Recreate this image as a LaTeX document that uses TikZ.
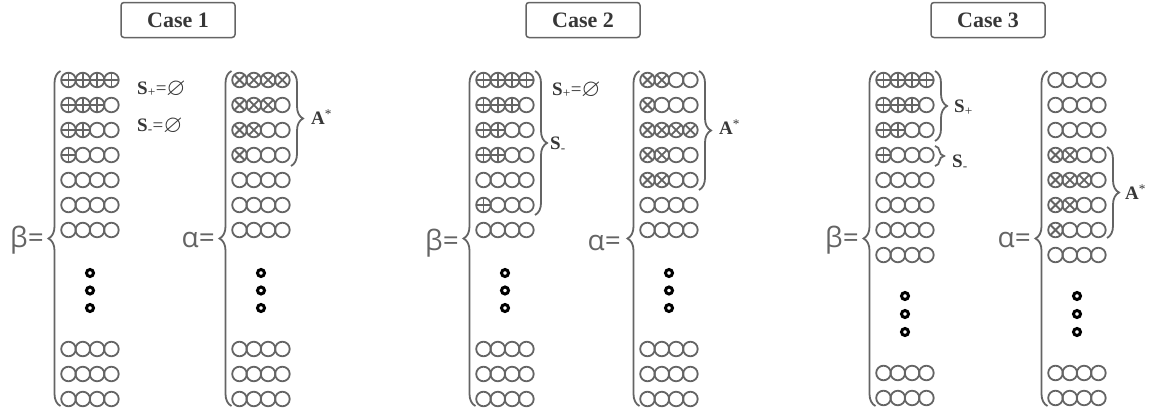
\documentclass[tikz,border=0pt]{standalone}
\usepackage{fontspec}
\usepackage{amssymb}
\setmainfont{Liberation Serif}
\newfontfamily\greekfont{Open Sans}
\usetikzlibrary{decorations.pathreplacing}

\definecolor{beadgray}{RGB}{100,100,100}
\definecolor{textgray}{RGB}{55,55,55}

\tikzset{
	bead/.style={draw=beadgray, line width=1.8pt},
	ringdot/.style={draw=black, line width=3pt},
	bigbrace/.style={draw=beadgray, line width=1.8pt, decorate, decoration={brace, amplitude=12pt}},
	smallbrace/.style={draw=beadgray, line width=1.8pt, decorate, decoration={brace, amplitude=9pt}},
	casebox/.style={draw=beadgray, line width=1.5pt, rounded corners=3pt, minimum width=114pt, minimum height=35pt, text=textgray, font=\fontsize{22}{24}\selectfont\bfseries},
	eqlabel/.style={anchor=east, text=beadgray, inner sep=0pt, font=\greekfont\fontsize{28}{30}\selectfont},
	setlabel/.style={anchor=west, text=textgray, inner sep=0pt, font=\fontsize{19}{21}\selectfont}
}

% one row of four beads, the first #3 of them marked (angle #4: 0 = plus, 45 = cross)
\newcommand{\beadrow}[4]{%
	\foreach \k in {0,...,3}{
		\draw[bead] ({#1+14.3*\k},#2) circle (7.3pt);
		\ifnum\k<#3
		\draw[bead] ({#1+14.3*\k},#2) ++(#4:7.3) -- ++(#4+180:14.6)
		({#1+14.3*\k},#2) ++(#4+90:7.3) -- ++(#4+270:14.6);
		\fi
	}}
% a column of rows, 25 apart
\newcommand{\beadcol}[4]{%
	\foreach \n [count=\i from 0] in {#3}{
		\beadrow{#1}{#2+25*\i}{\n}{#4}
	}}
\newcommand{\noneset}{\raisebox{-1pt}{\scalebox{1.3}{$\varnothing$}}}

\begin{document}
\begin{tikzpicture}[x=1pt,y=-1pt]
	\useasboundingbox (0,0) rectangle (1151,415);
	
	\node[casebox] (C1) at (178,20) {Case 1};
	\node[casebox] (C2) at (583,20) {Case 2};
	\node[casebox] (C3) at (988,20) {Case 3};
	
	% case 1
	\beadcol{68.5}{80}{4,3,2,1,0,0,0}{0}
	\beadcol{68.5}{349}{0,0,0}{0}
	\beadcol{239.5}{80}{4,3,2,1,0,0,0}{45}
	\beadcol{239.5}{349}{0,0,0}{45}
	\foreach \y in {273,290.5,308}{
		\draw[ringdot] (90,\y) circle (3.5pt);
		\draw[ringdot] (261,\y) circle (3.5pt);
	}
	\coordinate (B1t) at (60.5,71);
	\coordinate (B1b) at (60.5,406);
	\coordinate (A1t) at (231.5,71);
	\coordinate (A1b) at (231.5,406);
	\draw[bigbrace] (B1b) -- (B1t);
	\draw[bigbrace] (A1b) -- (A1t);
	\coordinate (As1t) at (291,71);
	\coordinate (As1b) at (291,166);
	\draw[bigbrace] (As1t) -- (As1b);
	\node[eqlabel] (beta1) at (44,240) {β=};
	\node[eqlabel] (alpha1) at (215,240) {α=};
	\node[setlabel] (Sp1) at (137,89) {\textbf{S}\textsubscript{+}=\noneset};
	\node[setlabel] (Sm1) at (137,126) {\textbf{S}\textsubscript{-}=\noneset};
	\node[setlabel] (As1) at (311,117) {\textbf{A}\textsuperscript{*}};
	
	% case 2
	\beadcol{483.5}{80}{4,3,2,2,0,1,0}{0}
	\beadcol{483.5}{349}{0,0,0}{0}
	\beadcol{647.5}{80}{2,1,4,2,2,0,0}{45}
	\beadcol{647.5}{349}{0,0,0}{45}
	\foreach \y in {273,290.5,308}{
		\draw[ringdot] (505,\y) circle (3.5pt);
		\draw[ringdot] (669,\y) circle (3.5pt);
	}
	\coordinate (B2t) at (475.5,71);
	\coordinate (B2b) at (475.5,406);
	\coordinate (A2t) at (639.5,71);
	\coordinate (A2b) at (639.5,406);
	\draw[bigbrace] (B2b) -- (B2t);
	\draw[bigbrace] (A2b) -- (A2t);
	\coordinate (Sm2t) at (535,71);
	\coordinate (Sm2b) at (535,215);
	\draw[bigbrace] (Sm2t) -- (Sm2b);
	\coordinate (As2t) at (699,71);
	\coordinate (As2b) at (699,190);
	\draw[bigbrace] (As2t) -- (As2b);
	\node[eqlabel] (beta2) at (459,243) {β=};
	\node[eqlabel] (alpha2) at (621,243) {α=};
	\node[setlabel] (Sp2) at (552,90) {\textbf{S}\textsubscript{+}=\noneset};
	\node[setlabel] (Sm2) at (550,145) {\textbf{S}\textsubscript{-}};
	\node[setlabel] (As2) at (719,127) {\textbf{A}\textsuperscript{*}};
	
	% case 3
	\beadcol{883.5}{80}{4,3,2,1,0,0,0,0}{0}
	\beadcol{883.5}{373}{0,0}{0}
	\beadcol{1055.5}{80}{0,0,0,2,3,2,1,0}{45}
	\beadcol{1055.5}{373}{0,0}{45}
	\foreach \y in {296,314,332}{
		\draw[ringdot] (905,\y) circle (3.5pt);
		\draw[ringdot] (1077,\y) circle (3.5pt);
	}
	\coordinate (B3t) at (875.5,71);
	\coordinate (B3b) at (875.5,406);
	\coordinate (A3t) at (1047.5,71);
	\coordinate (A3b) at (1047.5,406);
	\draw[bigbrace] (B3b) -- (B3t);
	\draw[bigbrace] (A3b) -- (A3t);
	\coordinate (Sp3t) at (935,71);
	\coordinate (Sp3b) at (935,141);
	\draw[bigbrace] (Sp3t) -- (Sp3b);
	\coordinate (Sm3t) at (935,146);
	\coordinate (Sm3b) at (935,166);
	\draw[smallbrace] (Sm3t) -- (Sm3b);
	\coordinate (As3t) at (1107,147);
	\coordinate (As3b) at (1107,238);
	\draw[bigbrace] (As3t) -- (As3b);
	\node[eqlabel] (beta3) at (859,240) {β=};
	\node[eqlabel] (alpha3) at (1031,240) {α=};
	\node[setlabel] (Sp3) at (954,108) {\textbf{S}\textsubscript{+}};
	\node[setlabel] (Sm3) at (952,163) {\textbf{S}\textsubscript{-}};
	\node[setlabel] (As3) at (1125,192) {\textbf{A}\textsuperscript{*}};
\end{tikzpicture}
\end{document}
